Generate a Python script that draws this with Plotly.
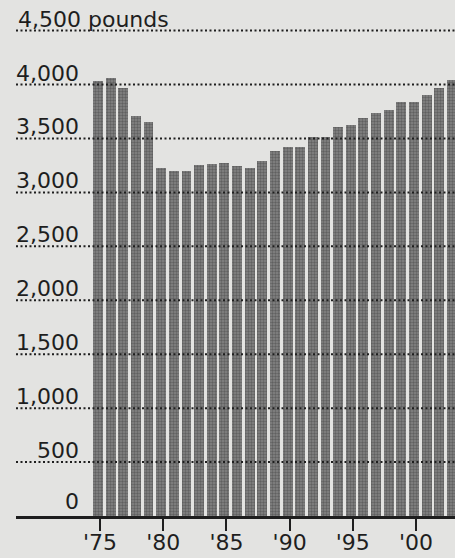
import plotly.graph_objects as go

# Average weight per year, in pounds
years = list(range(1975, 2004))
weights = [4030, 4060, 3970, 3710, 3650, 3225, 3200, 3200, 3255, 3260,
           3270, 3240, 3230, 3290, 3380, 3425, 3425, 3515, 3515, 3610,
           3625, 3690, 3740, 3765, 3840, 3835, 3900, 3970, 4040]

# Axis ticks and labels
x_tick_vals = [1975, 1980, 1985, 1990, 1995, 2000]
x_tick_text = ["'75", "'80", "'85", "'90", "'95", "'00"]
y_tick_vals = [0, 500, 1000, 1500, 2000, 2500, 3000, 3500, 4000, 4500]
y_tick_text = ["0", "500", "1,000", "1,500", "2,000", "2,500", "3,000",
               "3,500", "4,000", "4,500 pounds"]

W, H = 455, 558
L, B = 16, 42
BG = "#e3e3e1"
INK = "#1e1e1e"
FONT = "DejaVu Sans"

fig = go.Figure(go.Bar(
    x=years,
    y=weights,
    width=0.78,
    offset=-0.55,
    marker=dict(
        color="#707070",
        line=dict(width=0),
        pattern=dict(shape=".", size=3, solidity=0.5,
                     fgcolor="#3c3c3c", bgcolor="#858585"),
    ),
    hoverinfo="x+y",
))

# Dotted gridlines drawn over the bars, from the y tick values
for v in y_tick_vals[1:]:
    fig.add_shape(type="line", xref="paper", yref="y",
                  x0=0, x1=1, y0=v, y1=v, layer="above",
                  line=dict(color=INK, width=2, dash="2px,2.5px"))

# Value labels sitting just above each gridline
for v, t in zip(y_tick_vals, y_tick_text):
    if t.endswith("pounds"):
        fig.add_annotation(x=0, xref="paper", xanchor="left",
                           y=v, yref="y", yanchor="bottom",
                           text=t, showarrow=False, yshift=-3,
                           font=dict(family=FONT, size=22, color=INK))
    else:
        fig.add_annotation(x=(81 - L) / (W - L), xref="paper", xanchor="right",
                           y=v, yref="y", yanchor="bottom",
                           text=t, showarrow=False, yshift=-3 if v else 0,
                           font=dict(family=FONT, size=22, color=INK))

px_per_year = (416 - 100) / 25.0
x_left = 1975 - (100 - L) / px_per_year
x_right = x_left + (W - L) / px_per_year

px_per_lb = (516 - 84.5) / 4000.0
y_top = (H - B) / px_per_lb

fig.update_layout(
    width=W, height=H,
    margin=dict(l=L, r=0, t=0, b=B, pad=0, autoexpand=False),
    paper_bgcolor=BG,
    plot_bgcolor=BG,
    showlegend=False,
    bargap=0,
    xaxis=dict(
        range=[x_left, x_right],
        automargin=False,
        tickmode="array",
        tickvals=x_tick_vals,
        ticktext=x_tick_text,
        ticks="outside",
        ticklen=12,
        tickwidth=2,
        tickcolor=INK,
        ticklabelstandoff=-7,
        showline=True,
        linecolor=INK,
        linewidth=3,
        showgrid=False,
        zeroline=False,
        tickfont=dict(family=FONT, size=22, color=INK),
        fixedrange=True,
    ),
    yaxis=dict(
        range=[0, y_top],
        automargin=False,
        showgrid=False,
        zeroline=False,
        showticklabels=False,
        ticks="",
        fixedrange=True,
    ),
)

fig.write_html("out.html")
